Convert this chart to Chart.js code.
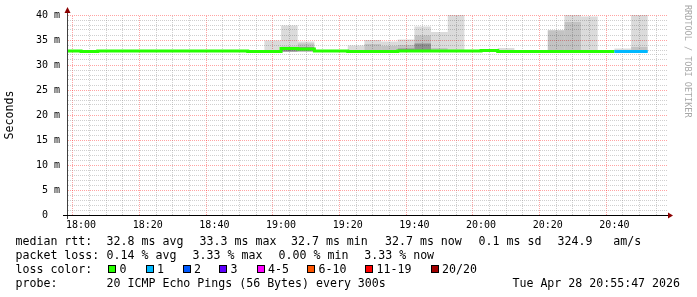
<!DOCTYPE html>
<html><head><meta charset="utf-8">
<script src="https://cdn.jsdelivr.net/npm/chart.js@4/dist/chart.umd.min.js"></script>
<style>
html,body{margin:0;padding:0;background:#fff;}
#wrap{position:relative;width:697px;height:297px;overflow:hidden;background:#fff;}
#c{position:absolute;left:0;top:0;}
.t{position:absolute;font-family:'DejaVu Sans Mono',monospace;font-size:11.6px;line-height:14px;color:#000;white-space:pre;}
.box{position:absolute;width:8px;height:8px;box-sizing:border-box;border:1px solid #000;}
#wm{position:absolute;left:683px;top:5px;width:10px;writing-mode:vertical-rl;font-family:'DejaVu Sans Mono',monospace;font-size:8.5px;line-height:10px;color:#a8a8a8;white-space:pre;}
</style></head><body>
<div id="wrap"><canvas id="c" width="697" height="297"></canvas><div id="legend"></div><div id="wm">RRDTOOL / TOBI OETIKER</div></div>
<script>
// ---------- data ----------
const times = ["17:55","18:00","18:05","18:10","18:15","18:20","18:25","18:30","18:35","18:40","18:45","18:50",
  "18:55","19:00","19:05","19:10","19:15","19:20","19:25","19:30","19:35","19:40","19:45","19:50",
  "19:55","20:00","20:05","20:10","20:15","20:20","20:25","20:30","20:35","20:40","20:45","20:50"];
const median = [32.8,32.7,32.8,32.8,32.8,32.8,32.8,32.8,32.8,32.8,32.8,32.7,
  32.7,33.3,33.2,32.8,32.8,32.7,32.7,32.7,32.8,32.8,32.8,32.8,
  32.8,32.9,32.7,32.7,32.7,32.7,32.7,32.7,32.7,32.7,32.7,null];
const lossCount = [0,0,0,0,0,0,0,0,0,0,0,0, 0,0,0,0,0,0,0,0,0,0,0,0, 0,0,0,0,0,0,0,0,0,1,1,null];
const smokeLo = [null,null,null,null,null,null,null,null,null,null,null,null,
  32.6,32.6,32.6,null,null,32.6,32.6,32.6,32.6,32.6,32.6,32.6,
  null,32.7,32.6,null,null,32.6,32.6,32.6,null,32.6,32.6,null];
const smokeHi = [null,null,null,null,null,null,null,null,null,null,null,null,
  34.9,37.9,34.7,null,null,33.9,35.0,34.7,35.1,37.7,36.6,41,
  null,33.2,33.4,null,null,37.0,41,39.7,null,33.3,41,null];
const innerLo = [null,null,null,null,null,null,null,null,null,null,null,null,
  null,32.6,32.6,null,null,null,32.6,32.6,32.6,32.6,32.6,null,
  null,null,null,null,null,32.6,32.6,null,null,null,32.6,null];
const innerHi = [null,null,null,null,null,null,null,null,null,null,null,null,
  null,33.7,34.3,null,null,null,34.2,33.8,34.0,35.9,33.4,null,
  null,null,null,null,null,36.9,38.6,null,null,null,33.6,null];
const coreLo = [null,null,null,null,null,null,null,null,null,null,null,null,
  null,32.7,32.8,null,null,null,null,null,32.7,32.7,null,null,
  null,null,null,null,null,null,null,null,null,null,null,null];
const coreHi = [null,null,null,null,null,null,null,null,null,null,null,null,
  null,33.6,33.6,null,null,null,null,null,33.3,34.3,null,null,
  null,null,null,null,null,null,null,null,null,null,null,null];
const axisStart = "17:55:47", axisEnd = "20:55:47";
const xTickLabels = ["18:00","18:20","18:40","19:00","19:20","19:40","20:00","20:20","20:40"];
const yTickLabels = ["0","5 m","10 m","15 m","20 m","25 m","30 m","35 m","40 m"];
const lossLabels = ["0","1","2","3","4-5","6-10","11-19","20/20"];
const lossColors = ["#26ff00","#00b8ff","#0059ff","#5e00ff","#ff00ff","#ff5500","#ff0000","#a10000"];
const medianStats = ["median rtt:","32.8 ms avg","33.3 ms max","32.7 ms min","32.7 ms now","0.1 ms sd","324.9","am/s"];
const lossStats = ["packet loss:","0.14 % avg","3.33 % max","0.00 % min","3.33 % now"];
const probeText = ["loss color:","probe:","20 ICMP Echo Pings (56 Bytes) every 300s"];
const dateText = "Tue Apr 28 20:55:47 2026";

// ---------- layout (positions only) ----------
const ROW_BASE = [245, 259, 273, 287];
const ROW1_X = [15.5, 106.6, 199.6, 291, 385, 478.6, 557.6, 613.3];
const ROW2_X = [15.5, 106.6, 192.6, 278.6, 364.3];
const BOX_X = [108, 145.5, 182.5, 219, 256.5, 307, 365, 430.5];
const ROW4_X = [15.5, 106.6];
const DATE_RIGHT = 680;
const ASC = 11;

// ---------- helpers ----------
const toMin = t => { const p = t.split(':').map(Number); return p[0]*60 + p[1] + (p[2]||0)/60 - 18*60; };
const fmt = v => { const tot = Math.round(18*60 + v); const h = Math.floor(tot/60), m = tot%60; return String(h).padStart(2,'0')+':'+String(m).padStart(2,'0'); };
const STEP = toMin(times[1]) - toMin(times[0]);
const lossIdx = n => n==null?0 : n<=3?n : n<=5?4 : n<=10?5 : n<=19?6 : 7;

const medPts = [];
times.forEach((t,k) => {
  const m = median[k];
  if (m == null) { medPts.push({x: toMin(t), y: null, k}); return; }
  medPts.push({x: toMin(t), y: m, k});
  if (k === times.length-1 || median[k+1] == null) medPts.push({x: toMin(t)+STEP, y: m, k});
});
function barData(lo, hi){
  const out = [];
  times.forEach((t,k) => { if (lo[k]!=null && hi[k]!=null) out.push({x: toMin(t)+STEP/2, y:[lo[k], hi[k]]}); });
  return out;
}
const xMin = toMin(axisStart), xMax = toMin(axisEnd);
const gridMinutes = []; for (let m = Math.ceil(xMin/STEP)*STEP; m <= xMax; m += STEP) gridMinutes.push(m);

// dotted grid patterns (1 px on / 1 px off)
function dots(color, horizontal){
  const c = document.createElement('canvas');
  c.width = horizontal ? 2 : 1; c.height = horizontal ? 1 : 2;
  const g = c.getContext('2d'); g.fillStyle = color; g.fillRect(0,0,1,1);
  return g.createPattern(c, 'repeat');
}
const MAJ_C = 'rgba(255,0,0,0.36)', MIN_C = 'rgba(140,140,140,0.42)';
const MAJ_H = dots(MAJ_C, true), MIN_H = dots(MIN_C, true);
const MAJ_V = dots(MAJ_C, false), MIN_V = dots(MIN_C, false);

const barCommon = {type:'bar', grouped:false, barPercentage:1, categoryPercentage:1, borderWidth:0, inflateAmount:0};

const axisDecor = {
  id:'axisDecor',
  afterDatasetsDraw(chart){
    const {ctx, chartArea:a} = chart;
    ctx.save();
    ctx.lineWidth = 1;
    ctx.strokeStyle = '#404040';
    ctx.beginPath(); ctx.moveTo(a.left+0.5, a.bottom+4); ctx.lineTo(a.left+0.5, a.top-3); ctx.stroke();
    ctx.strokeStyle = '#000';
    ctx.beginPath(); ctx.moveTo(a.left-4, a.bottom+0.5); ctx.lineTo(a.right+1, a.bottom+0.5); ctx.stroke();
    ctx.fillStyle = '#8b0000';
    ctx.beginPath(); ctx.moveTo(a.left+0.5, a.top-8); ctx.lineTo(a.left-2.5, a.top-2); ctx.lineTo(a.left+3.5, a.top-2); ctx.closePath(); ctx.fill();
    ctx.beginPath(); ctx.moveTo(a.right+6, a.bottom+0.5); ctx.lineTo(a.right+1, a.bottom-2.5); ctx.lineTo(a.right+1, a.bottom+3.5); ctx.closePath(); ctx.fill();
    ctx.restore();
  }
};

new Chart(document.getElementById('c'), {
  type:'line',
  data:{ datasets:[
    {type:'line', label:'median', data:medPts, order:0, stepped:true, spanGaps:false, pointRadius:0, borderWidth:3,
     borderCapStyle:'butt', clip:0, borderColor:lossColors[0],
     segment:{ borderColor: c => lossColors[lossIdx(lossCount[medPts[c.p0DataIndex].k])] }},
    Object.assign({label:'core', data:barData(coreLo, coreHi), order:1, backgroundColor:'rgba(0,0,0,0.26)'}, barCommon),
    Object.assign({label:'inner', data:barData(innerLo, innerHi), order:2, backgroundColor:'rgba(0,0,0,0.11)'}, barCommon),
    Object.assign({label:'smoke', data:barData(smokeLo, smokeHi), order:3, backgroundColor:'rgba(0,0,0,0.14)'}, barCommon)
  ]},
  options:{
    responsive:false, animation:false, devicePixelRatio:1,
    layout:{padding:{left:0, right:30, top:15, bottom:0}},
    plugins:{legend:{display:false}, tooltip:{enabled:false}},
    scales:{
      x:{type:'linear', min:xMin, max:xMax, offset:false,
        afterBuildTicks: s => { s.ticks = gridMinutes.map(v => ({value:v})); },
        afterFit: s => { s.height = 82; },
        ticks:{autoSkip:false, maxRotation:0, padding:4, color:'#000',
          font:{family:'DejaVu Sans Mono', size:10},
          callback: v => xTickLabels.includes(fmt(v)) ? fmt(v) : ''},
        grid:{drawTicks:false, lineWidth:1, color: c => (c.tick && Math.round(c.tick.value) % 20 === 0) ? MAJ_V : MIN_V},
        border:{display:true, color:'#000'}
      },
      y:{type:'linear', min:0, max:40,
        afterBuildTicks: s => { const t=[]; for (let v=0; v<=40; v++) t.push({value:v}); s.ticks = t; },
        afterFit: s => { s.width = 67; },
        ticks:{autoSkip:false, padding:7, color:'#000', font:{family:'DejaVu Sans Mono', size:10},
          callback: v => v % 5 === 0 ? (v === 0 ? yTickLabels[0] + '  ' : yTickLabels[v/5]) : ''},
        grid:{drawTicks:false, lineWidth:1, color: c => (c.tick && c.tick.value % 5 === 0) ? MAJ_H : MIN_H},
        border:{display:true, color:'#404040'},
        title:{display:true, text:'Seconds', color:'#000', font:{family:'DejaVu Sans Mono', size:11.6}, padding:{top:3, bottom:0}}
      }
    }
  },
  plugins:[axisDecor]
});

// ---------- legend text (HTML) ----------
const legend = document.getElementById('legend');
function put(text, x, base){
  const s = document.createElement('span'); s.className = 't'; s.textContent = text;
  s.style.left = x + 'px'; s.style.top = (base - ASC) + 'px'; legend.appendChild(s); return s;
}
medianStats.forEach((txt,i) => put(txt, ROW1_X[i], ROW_BASE[0]));
lossStats.forEach((txt,i) => put(txt, ROW2_X[i], ROW_BASE[1]));
put(probeText[0], 15.5, ROW_BASE[2]);
lossLabels.forEach((lab,i) => {
  const b = document.createElement('div'); b.className = 'box';
  b.style.left = BOX_X[i] + 'px'; b.style.top = (ROW_BASE[2] - 8) + 'px'; b.style.background = lossColors[i];
  legend.appendChild(b);
  put(lab, BOX_X[i] + 11.5, ROW_BASE[2]);
});
put(probeText[1], ROW4_X[0], ROW_BASE[3]);
put(probeText[2], ROW4_X[1], ROW_BASE[3]);
const d = put(dateText, 0, ROW_BASE[3]); d.style.left = ''; d.style.right = (697 - DATE_RIGHT) + 'px';
</script>
</body></html>
